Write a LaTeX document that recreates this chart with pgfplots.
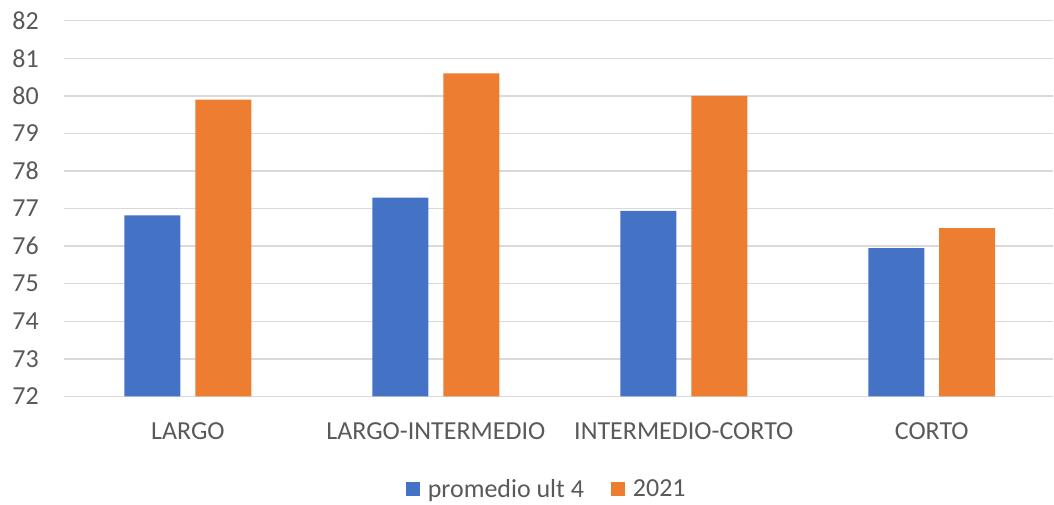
\documentclass[border=0pt]{standalone}
\usepackage{pgfplots}
\pgfplotsset{compat=1.18}
\usepackage{fontspec}
\setmainfont{Carlito}
\definecolor{cblue}{HTML}{4472C4}
\definecolor{corange}{HTML}{ED7D31}
\definecolor{cgrid}{HTML}{D9D9D9}
\definecolor{ctext}{HTML}{595959}
\begin{document}
\begin{tikzpicture}
\begin{axis}[
  scale only axis,
  width=990bp, height=376bp,
  xmin=-0.5, xmax=3.49,
  ymin=72, ymax=82,
  ytick={72,73,...,82},
  xtick=data,
  xticklabels={LARGO,LARGO-INTERMEDIO,INTERMEDIO-CORTO,CORTO},
  ybar, bar width=0.226,
  axis line style={draw=none},
  ymajorgrids, grid style={cgrid, line width=1.5bp},
  major tick length=0pt,
  /pgf/number format/assume math mode=true,
  tick label style={font=\fontsize{26bp}{30bp}\selectfont, text=ctext},
  yticklabel style={inner sep=0pt, anchor=east, xshift=-25bp},
  xticklabel style={inner sep=0pt, anchor=north, yshift=-26bp},
  legend style={at={(0.491,-0.247)}, anchor=center, draw=none, fill=none,
    legend columns=2, font=\fontsize{26bp}{30bp}\selectfont, text=ctext,
    /tikz/every even column/.append style={column sep=19bp},
    nodes={inner xsep=8bp},
    legend cell align=left},
  legend image code/.code={\fill[#1] (0bp,-7bp) rectangle (14bp,7bp);},
  clip=false,
]
\addplot[fill=cblue, draw=none, bar shift=-0.143] coordinates {(0,76.82) (1,77.29) (2,76.94) (3,75.95)};
\addplot[fill=corange, draw=none, bar shift=0.143] coordinates {(0,79.90) (1,80.60) (2,80.00) (3,76.48)};
\legend{promedio ult 4, 2021}
\end{axis}
\useasboundingbox (-64bp,-108bp) rectangle (990bp,396.7bp);
\end{tikzpicture}
\end{document}
